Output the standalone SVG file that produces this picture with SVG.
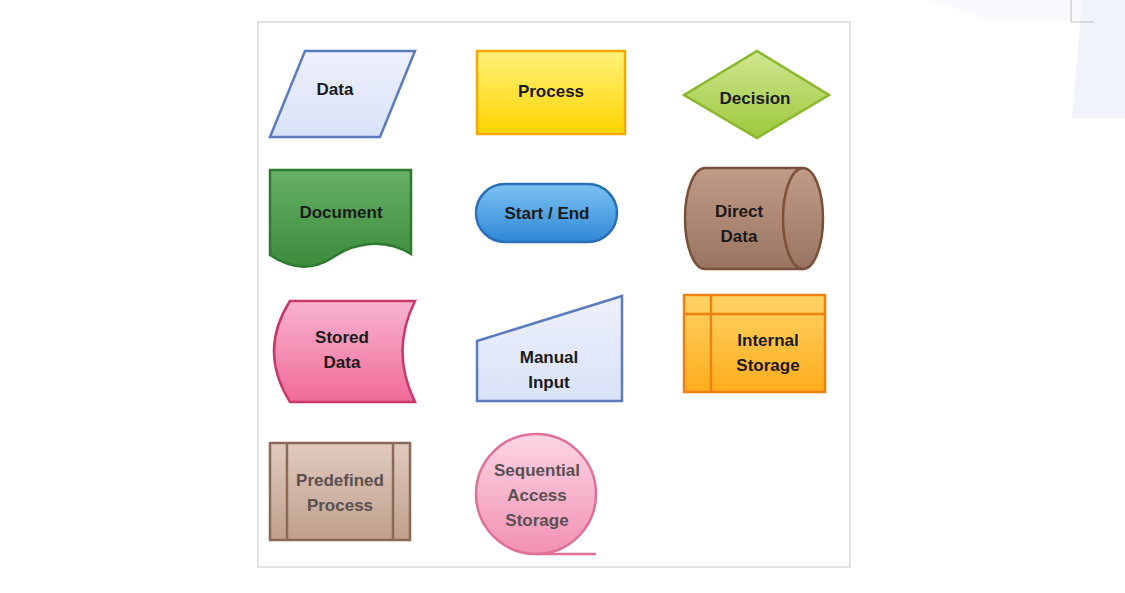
<svg xmlns="http://www.w3.org/2000/svg" width="1125" height="593" viewBox="0 0 1125 593">
<defs>
<linearGradient id="gLav" x1="0" y1="0" x2="0" y2="1"><stop offset="0" stop-color="#eef0fb"/><stop offset="1" stop-color="#d8e2f8"/></linearGradient>
<linearGradient id="gYel" x1="0" y1="0" x2="0" y2="1"><stop offset="0" stop-color="#fff27a"/><stop offset="1" stop-color="#ffd400"/></linearGradient>
<linearGradient id="gGrn" x1="0" y1="0" x2="0" y2="1"><stop offset="0" stop-color="#d0e690"/><stop offset="1" stop-color="#9cc83c"/></linearGradient>
<linearGradient id="gDoc" x1="0" y1="0" x2="0" y2="1"><stop offset="0" stop-color="#66b066"/><stop offset="1" stop-color="#3c8c3c"/></linearGradient>
<linearGradient id="gBlu" x1="0" y1="0" x2="0" y2="1"><stop offset="0" stop-color="#7cc2f2"/><stop offset="1" stop-color="#2f88d6"/></linearGradient>
<linearGradient id="gBrn" x1="0" y1="0" x2="0" y2="1"><stop offset="0" stop-color="#c09c88"/><stop offset="1" stop-color="#9a7460"/></linearGradient>
<linearGradient id="gPnk" x1="0" y1="0" x2="0" y2="1"><stop offset="0" stop-color="#f8b4d0"/><stop offset="1" stop-color="#f06a98"/></linearGradient>
<linearGradient id="gOrg" x1="0" y1="0" x2="0" y2="1"><stop offset="0" stop-color="#ffd466"/><stop offset="1" stop-color="#ffac1c"/></linearGradient>
<linearGradient id="gPre" x1="0" y1="0" x2="0" y2="1"><stop offset="0" stop-color="#e0cac0"/><stop offset="1" stop-color="#c0a08c"/></linearGradient>
<linearGradient id="gSeq" x1="0" y1="0" x2="0" y2="1"><stop offset="0" stop-color="#fcd6e4"/><stop offset="1" stop-color="#f290b4"/></linearGradient>
</defs>
<style>
text{font-family:"Liberation Sans",Arial,sans-serif;font-weight:bold;font-size:17px;text-anchor:middle;fill:#1a1a1a}
.gray{fill:#5a5050}
</style>
<rect width="1125" height="593" fill="#fff"/>
<polygon points="930,0 1090,0 1085,20 990,20" fill="#f8f9fc"/>
<polygon points="1082,0 1125,0 1125,118 1072,118" fill="#f0f3f9"/>
<path d="M1071,0 V22 H1094" fill="none" stroke="#bbb" stroke-width="1"/>
<rect x="258" y="22" width="592" height="545" fill="#fff" stroke="#c8c8c8"/>
<g id="connectors"/>
<g id="data"><polygon points="270,137 305,51 415,51 380,137" fill="url(#gLav)" stroke="#5b7bc0" stroke-width="2.5"/><text x="335" y="95">Data</text></g>
<g id="process"><rect x="477" y="51" width="148" height="83" fill="url(#gYel)" stroke="#f5a800" stroke-width="2.5"/><text x="551" y="97">Process</text></g>
<g id="decision"><polygon points="684,95 757,51 829,95 757,138" fill="url(#gGrn)" stroke="#8ab82c" stroke-width="2.5"/><text x="755" y="104">Decision</text></g>
<g id="document"><path d="M270,170 H411 V254 C385,238 355,242 332,258 C310,272 288,267 270,255 Z" fill="url(#gDoc)" stroke="#2e7a2e" stroke-width="2.5"/><text x="341" y="218">Document</text></g>
<g id="startend"><rect x="476" y="184" width="141" height="58" rx="29" fill="url(#gBlu)" stroke="#2a6fb8" stroke-width="2.5"/><text x="547" y="219">Start / End</text></g>
<g id="directdata"><path d="M705,168 H803 A20,50.5 0 0 1 803,269 H705 A20,50.5 0 0 1 705,168 Z" fill="url(#gBrn)" stroke="#7a5038" stroke-width="2.5"/><path d="M803,168 A20,50.5 0 0 0 803,269" fill="none" stroke="#7a5038" stroke-width="2.5"/><text x="739" y="217">Direct</text><text x="739" y="242">Data</text></g>
<g id="storeddata"><path d="M290,301 H415 Q390,351 415,402 H290 Q258,351 290,301 Z" fill="url(#gPnk)" stroke="#c83868" stroke-width="2.5"/><text x="342" y="343">Stored</text><text x="342" y="368">Data</text></g>
<g id="manualinput"><polygon points="477,341 622,296 622,401 477,401" fill="url(#gLav)" stroke="#5b7bc0" stroke-width="2.5"/><text x="549" y="363">Manual</text><text x="549" y="388">Input</text></g>
<g id="internalstorage"><rect x="684" y="295" width="141" height="97" fill="url(#gOrg)" stroke="#f08010" stroke-width="2.5"/><path d="M684,314 H825 M711,295 V392" stroke="#f08010" stroke-width="2.5"/><text x="768" y="346">Internal</text><text x="768" y="371">Storage</text></g>
<g id="predefined"><rect x="270" y="443" width="140" height="97" fill="url(#gPre)" stroke="#8a6a56" stroke-width="2.5"/><path d="M287,443 V540 M393,443 V540" stroke="#8a6a56" stroke-width="2.5"/><text class="gray" x="340" y="486">Predefined</text><text class="gray" x="340" y="511">Process</text></g>
<g id="sequential"><circle cx="536" cy="494" r="60" fill="url(#gSeq)" stroke="#e07098" stroke-width="2.5"/><path d="M536,554 H596" stroke="#e07098" stroke-width="2.5"/><text class="gray" x="537" y="476">Sequential</text><text class="gray" x="537" y="501">Access</text><text class="gray" x="537" y="526">Storage</text></g>
</svg>
